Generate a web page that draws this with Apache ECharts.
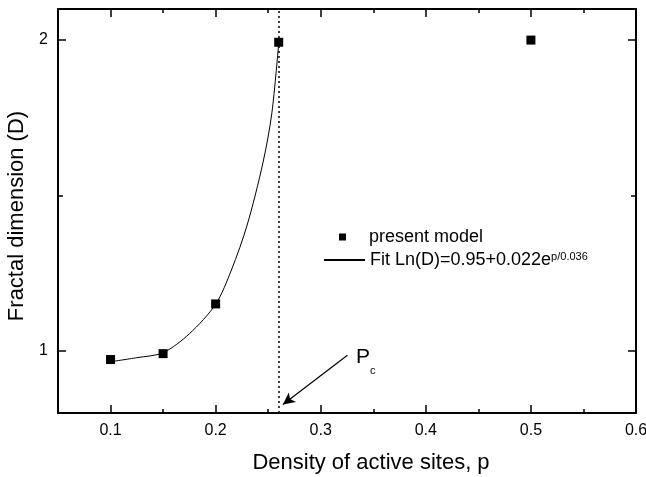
<!DOCTYPE html>
<html>
<head>
<meta charset="utf-8">
<script src="https://cdn.jsdelivr.net/npm/echarts@6/dist/echarts.min.js"></script>
<style>
  html, body { margin: 0; padding: 0; background: #fff; }
  #main { width: 646px; height: 477px; }
</style>
</head>
<body>
<div id="main"></div>
<script>
// measured points
var densities = [0.1, 0.15, 0.2, 0.26, 0.5];
var fractalDims = [0.972, 0.991, 1.151, 1.993, 2.0];

// fit curve
var fitP = [0.1, 0.125, 0.15, 0.175, 0.2, 0.215, 0.23, 0.245, 0.2535, 0.26];
var fitD = [0.965, 0.978, 0.994, 1.055, 1.15, 1.26, 1.405, 1.605, 1.765, 1.99];

var xMajorTicks = [0.1, 0.2, 0.3, 0.4, 0.5, 0.6];
var xMinorTicks = [0.15, 0.25, 0.35, 0.45, 0.55];
var yMajorTicks = [1, 2];
var yMinorTicks = [1.5];

var pc = 0.26;
var arrowFrom = [0.3254, 0.9856];
var arrowTo = [0.264, 0.8273];

var FONT = 'Liberation Sans, Arial, sans-serif';
var myChart = echarts.init(document.getElementById('main'));

function xAxisOf(pos, ticks, len, withLabel) {
  return {
    type: 'value', position: pos, min: 0.05, max: 0.6,
    axisLine: { show: withLabel !== undefined, lineStyle: { color: '#000', width: 2 } },
    axisTick: { show: true, inside: true, length: len, customValues: ticks,
                lineStyle: { color: '#000', width: 1.5 } },
    axisLabel: withLabel ? { show: true, customValues: ticks, margin: 10,
                color: '#000', fontSize: 16, fontFamily: FONT } : { show: false },
    splitLine: { show: false }
  };
}
function yAxisOf(pos, ticks, len, withLabel) {
  return {
    type: 'value', position: pos, min: 0.8, max: 2.1,
    axisLine: { show: withLabel !== undefined, onZero: false, lineStyle: { color: '#000', width: 2 } },
    axisTick: { show: true, inside: true, length: len, customValues: ticks,
                lineStyle: { color: '#000', width: 1.5 } },
    axisLabel: withLabel ? { show: true, customValues: ticks, margin: 10,
                color: '#000', fontSize: 16, fontFamily: FONT } : { show: false },
    splitLine: { show: false }
  };
}

var xMain = xAxisOf('bottom', xMajorTicks, 8, true);
xMain.name = 'Density of active sites, p';
xMain.nameLocation = 'middle';
xMain.nameGap = 39;
xMain.nameTextStyle = { color: '#000', fontSize: 22, fontFamily: FONT, padding: [0, 0, 0, 48] };
var xTop = xAxisOf('top', xMajorTicks, 8, false);

var yMain = yAxisOf('left', yMajorTicks, 8, true);
yMain.name = 'Fractal dimension (D)';
yMain.nameLocation = 'middle';
yMain.nameGap = 30;
yMain.nameTextStyle = { color: '#000', fontSize: 22, fontFamily: FONT, padding: [0, 10, 0, 0] };
var yRight = yAxisOf('right', yMajorTicks, 8, false);

var option = {
  animation: false,
  backgroundColor: '#fff',
  grid: { left: 58, right: 10, top: 9, bottom: 64, containLabel: false, outerBoundsMode: 'none' },
  xAxis: [
    xMain,
    xAxisOf('bottom', xMinorTicks, 4),
    xTop,
    xAxisOf('top', xMinorTicks, 4)
  ],
  yAxis: [
    yMain,
    yAxisOf('left', yMinorTicks, 5),
    yRight,
    yAxisOf('right', yMinorTicks, 5)
  ],
  legend: [
    {
      orient: 'vertical', left: 334, top: 223,
      itemWidth: 7, itemHeight: 7,
      data: [{ name: 'present model', icon: 'rect' }],
      formatter: '{t|{name}}',
      textStyle: {
        color: '#000', fontSize: 18, fontFamily: FONT,
        rich: { t: { color: '#000', fontSize: 18, fontFamily: FONT, padding: [0, 0, 0, 18] } }
      }
    },
    {
      orient: 'vertical', left: 318, top: 246,
      itemWidth: 41, itemHeight: 7,
      data: [{ name: 'fit', itemStyle: { color: 'rgba(0,0,0,0)', borderWidth: 0 } }],
      formatter: function () { return '{a|Fit Ln(D)=0.95+0.022e}{s|p/0.036}'; },
      textStyle: {
        color: '#000', fontSize: 18, fontFamily: FONT,
        rich: {
          a: { color: '#000', fontSize: 18, fontFamily: FONT },
          s: { color: '#000', fontSize: 11, fontFamily: FONT, verticalAlign: 'top' }
        }
      }
    }
  ],
  graphic: [
    { type: 'text', left: 356, top: 347, style: { text: 'P', fill: '#000', fontSize: 21, fontFamily: FONT } },
    { type: 'text', left: 370, top: 365, style: { text: 'c', fill: '#000', fontSize: 11, fontFamily: FONT } }
  ],
  series: [
    {
      name: 'fit', type: 'line', smooth: 0.3, symbol: 'none',
      data: fitP.map(function (p, i) { return [p, fitD[i]]; }),
      lineStyle: { color: '#000', width: 1 }, itemStyle: { color: '#000' },
      z: 2,
      markLine: {
        silent: true, animation: false,
        symbol: ['none', 'arrow'], symbolSize: [9, 12],
        label: { show: false },
        lineStyle: { color: '#000', width: 1.2, type: 'solid' },
        data: [[{ coord: arrowFrom }, { coord: arrowTo }]]
      }
    },
    {
      name: 'present model', type: 'scatter', symbol: 'rect', symbolSize: 9,
      data: densities.map(function (p, i) { return [p, fractalDims[i]]; }),
      itemStyle: { color: '#000', opacity: 1 }, z: 3,
      markLine: {
        silent: true, animation: false,
        symbol: ['none', 'none'],
        label: { show: false },
        lineStyle: { color: '#000', width: 1.5, type: [2, 3] },
        data: [{ xAxis: pc }]
      }
    }
  ]
};

myChart.setOption(option);
</script>
</body>
</html>
